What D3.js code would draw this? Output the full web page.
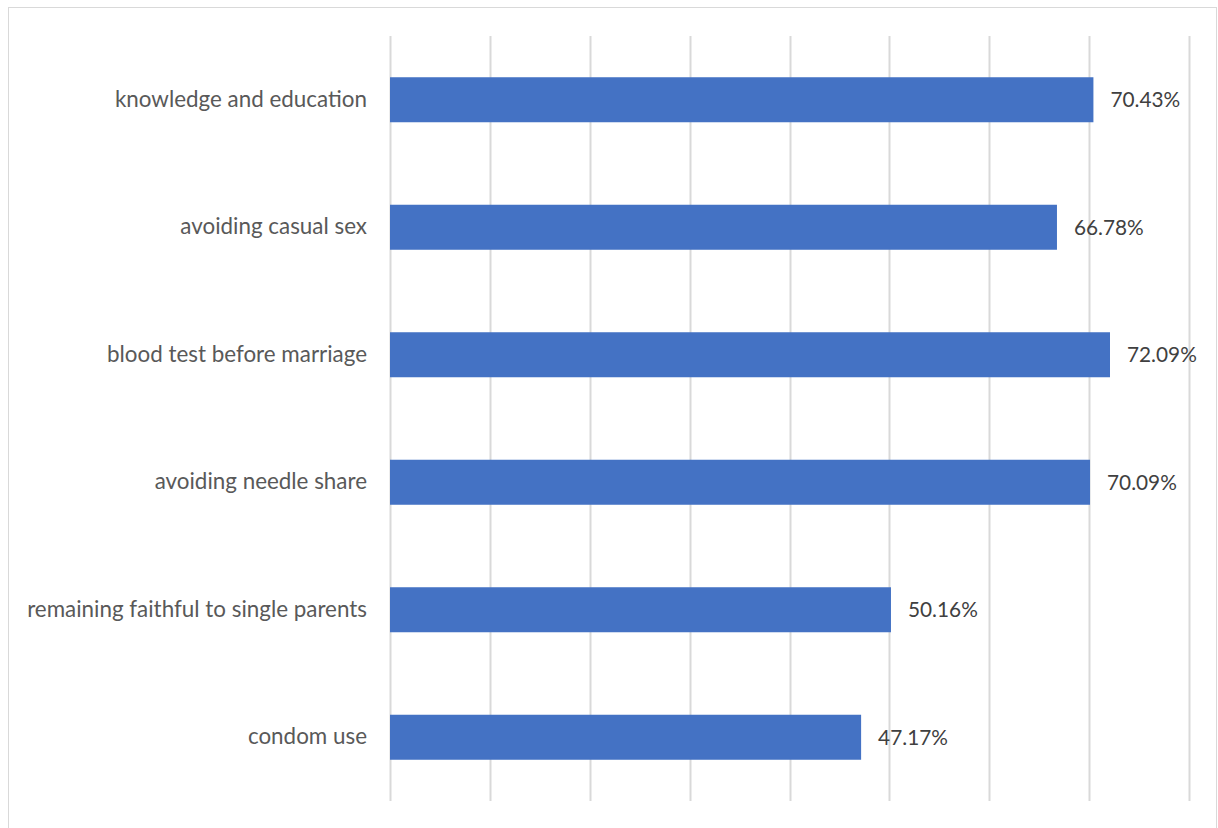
<!DOCTYPE html>
<html>
<head>
<meta charset="utf-8">
<script src="https://cdn.jsdelivr.net/npm/d3@7"></script>
<style>
  html, body { margin: 0; padding: 0; background: #fff; }
  svg { display: block; }
</style>
</head>
<body>
<svg id="chart" width="1218" height="828"></svg>
<script>
// Survey answers: methods of HIV/AIDS prevention (share of respondents, %)
const categories = [
  "knowledge and education",
  "avoiding casual sex",
  "blood test before marriage",
  "avoiding needle share",
  "remaining faithful to single parents",
  "condom use"
];
const values = [70.43, 66.78, 72.09, 70.09, 50.16, 47.17];
const xTicks = [0, 10, 20, 30, 40, 50, 60, 70, 80];

const svg = d3.select("#chart");

// outer chart frame (bottom edge falls outside the view)
svg.append("rect")
  .attr("x", 8.5).attr("y", 7.5)
  .attr("width", 1208).attr("height", 840)
  .attr("fill", "#fff")
  .attr("stroke", "#d9d9d9")
  .attr("stroke-width", 1);

const plot = { left: 390, right: 1189, top: 36, bottom: 801 };

const x = d3.scaleLinear().domain([0, 80]).range([plot.left, plot.right]);
const y = d3.scaleBand()
  .domain(categories)
  .range([plot.top, plot.bottom])
  .paddingInner(0.647)
  .paddingOuter(0.3235);

// vertical gridlines
svg.append("g")
  .selectAll("line")
  .data(xTicks)
  .join("line")
  .attr("x1", d => Math.round(x(d)) + 0.5)
  .attr("x2", d => Math.round(x(d)) + 0.5)
  .attr("y1", plot.top)
  .attr("y2", plot.bottom)
  .attr("stroke", "#d9d9d9")
  .attr("stroke-width", 2);

// bars
svg.append("g")
  .selectAll("rect")
  .data(values)
  .join("rect")
  .attr("x", x(0))
  .attr("y", (d, i) => y(categories[i]))
  .attr("width", d => x(d) - x(0))
  .attr("height", y.bandwidth())
  .attr("fill", "#4472c4");

// category labels
const yAxis = d3.axisLeft(y).tickSize(0).tickPadding(23);
const ay = svg.append("g")
  .attr("transform", `translate(${plot.left},0)`)
  .call(yAxis);
ay.select(".domain").remove();
ay.selectAll("text")
  .attr("font-family", "Lato, 'Open Sans', sans-serif")
  .attr("font-size", 22.4)
  .attr("fill", "#595959");

// value labels
svg.append("g")
  .selectAll("text")
  .data(values)
  .join("text")
  .attr("x", d => x(d) + 17)
  .attr("y", (d, i) => y(categories[i]) + y.bandwidth() / 2)
  .attr("dy", "0.35em")
  .attr("font-family", "Lato, 'Open Sans', sans-serif")
  .attr("font-size", 20.8)
  .attr("fill", "#404040")
  .text(d => d.toFixed(2) + "%");
</script>
</body>
</html>
